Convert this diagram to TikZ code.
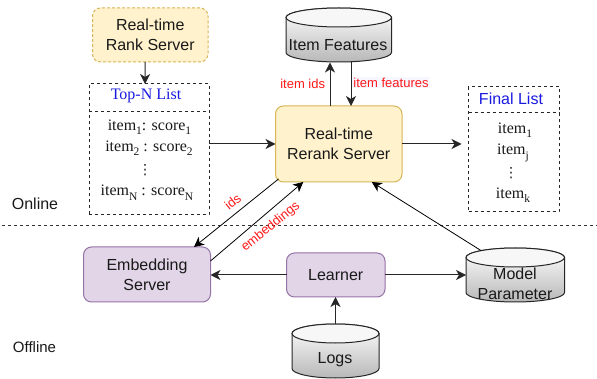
\documentclass[tikz,border=0pt]{standalone}
\usepackage{fontspec}
\setmainfont{Liberation Sans}
\newfontfamily\timesf{Liberation Serif}
\newfontfamily\dejavuf{DejaVu Sans}
\usetikzlibrary{arrows.meta,shadings,calc}
\definecolor{yfill}{HTML}{FFF2CC}
\definecolor{ydraw}{HTML}{D6B656}
\definecolor{pfill}{HTML}{E1D5E7}
\definecolor{pdraw}{HTML}{9673A6}
\definecolor{redlab}{HTML}{FF1A1A}
\definecolor{bluelab}{HTML}{1A1AE0}
\newcommand{\sbs}[1]{\raisebox{-0.28em}{\fontsize{11.5}{11.5}\selectfont #1}}
\newcommand{\cylinderdb}[6]{%
  % #1 name, #2 left, #3 top, #4 width, #5 height, #6 ellipse ry
  \node[anchor=north west,minimum width=#4pt,minimum height=#5pt,inner sep=0pt,outer sep=0pt] (#1) at (#2,#3) {};
  \shade[top color=white,bottom color=black!28,draw=black!85,line width=1pt]
    ($(#1.north west)+(0,-#6pt)$) -- ($(#1.south west)+(0,#6pt)$)
    arc[start angle=180,end angle=360,x radius=#4pt/2,y radius=#6pt]
    -- ($(#1.north east)+(0,-#6pt)$)
    arc[start angle=0,end angle=180,x radius=#4pt/2,y radius=#6pt] -- cycle;
  \draw[fill=white!97!black,draw=black!85,line width=1pt] ($(#1.north)+(0,-#6pt)$) ellipse[x radius=#4pt/2,y radius=#6pt];
}
\tikzset{
  every node/.style={font=\fontsize{16}{20}\selectfont,text=black!90},
  box/.style={rectangle,rounded corners=8pt,inner sep=0pt,outer sep=0pt,line width=1pt,align=center,anchor=north west},
  yellowbox/.style={box,draw=ydraw,fill=yfill},
  purplebox/.style={box,draw=pdraw,fill=pfill},
  listbox/.style={rectangle,draw=black!85,dash pattern=on 3pt off 3pt,line width=1pt,inner sep=0pt,outer sep=0pt,anchor=north west},
  conn/.style={draw=black!85,line width=1pt,-{Stealth[length=10pt,width=10pt,inset=3pt]}},
  thinconn/.style={draw=black,line width=0.8pt,-{Stealth[length=10pt,width=10pt,inset=3pt]}},
  labelred/.style={font=\fontsize{13}{15}\selectfont,text=redlab,inner sep=0pt},
  itemtext/.style={font=\timesf\fontsize{16}{18}\selectfont,inner sep=0pt},
  dotstext/.style={font=\dejavuf\fontsize{14}{14}\selectfont,inner sep=0pt},
  plain/.style={inner sep=0pt,align=center},
}
\begin{document}
\begin{tikzpicture}[x=1pt,y=-1pt]
\useasboundingbox (0,0) rectangle (597,379);
\fill[white] (0,0) rectangle (597,379);

% boxes
\node[yellowbox,dash pattern=on 3pt off 2pt,minimum width=115.5pt,minimum height=54pt] (rank) at (92.5,8) {Real-time\\Rank Server};
\node[yellowbox,minimum width=126.5pt,minimum height=76pt] (rerank) at (275.5,106) {Real-time\\Rerank Server};
\node[purplebox,minimum width=127pt,minimum height=55pt] (embed) at (83.5,247) {Embedding\\Server};
\node[purplebox,minimum width=98.5pt,minimum height=44pt] (learner) at (286.5,253) {Learner};

% lists
\node[listbox,minimum width=120pt,minimum height=131pt] (topn) at (89,84) {};
\coordinate (topnL) at (89,112);
\draw[listbox] (topnL) -- (topnL -| topn.east);
\node[itemtext,text=bluelab] (topntitle) at (146,96) {Top-N List};
\node[itemtext] (i1) at (149.5,127) {item\sbs{1}: score\sbs{1}};
\node[itemtext] (i2) at (149,148) {item\sbs{2} : score\sbs{2}};
\node[dotstext] (i3) at (145,170) {⋮};
\node[itemtext] (i4) at (147,192.5) {item\sbs{N} : score\sbs{N}};

\node[listbox,minimum width=90.5pt,minimum height=125pt] (final) at (468.5,87) {};
\coordinate (finalL) at (468.5,113);
\draw[listbox] (finalL) -- (finalL -| final.east);
\node[plain,text=bluelab] (finaltitle) at (511,98.5) {Final List};
\node[itemtext] (f1) at (515,130) {item\sbs{1}};
\node[itemtext] (f2) at (513,153) {item\sbs{j}};
\node[dotstext] (f3) at (511,173) {⋮};
\node[itemtext] (f4) at (513,195) {item\sbs{k}};

% cylinders
\cylinderdb{features}{286}{8}{105.5}{54}{9.5}
\node[plain] (featurestext) at (338,45) {Item Features};
\cylinderdb{model}{466}{248}{98.5}{54}{9.5}
\node[plain] (modeltext) at (515,284) {Model\\Parameter};
\cylinderdb{logs}{292}{324}{87}{54}{9.5}
\node[plain] (logstext) at (335,360) {Logs};

% section labels
\node[plain] (online) at (35,204) {Online};
\node[plain,font=\fontsize{15}{18}\selectfont] (offline) at (34.5,347) {Offline};
\coordinate (divA) at (2,226);
\coordinate (divB) at (597,226);
\draw[draw=black!80,line width=1pt,dash pattern=on 3pt off 3pt] (divA) -- (divB);

% connectors
\draw[conn] ([xshift=-5pt]rank.south) -- ([xshift=-4pt]topn.north);
\draw[conn] (topn.east |- rerank.west) -- (rerank.west);
\draw[conn] (rerank.east) -- ([xshift=-7pt]final.west |- rerank.east);
\draw[conn] ([xshift=-8.75pt]rerank.north) -- ([xshift=-8.75pt,yshift=-0.5pt]features.south);
\draw[conn] ([xshift=12.25pt]features.south) -- ([xshift=12.25pt]rerank.north);
\draw[thinconn] ([xshift=3pt,yshift=3pt]rerank.south west) -- ([xshift=47pt]embed.north);
\draw[thinconn] ([yshift=13.5pt]embed.east) -- ([xshift=-35.5pt]rerank.south);
\draw[thinconn] ([xshift=-34pt,yshift=-2.7pt]model.north) -- ([xshift=33pt]rerank.south);
\draw[conn] (learner.west) -- (embed.east |- learner.west);
\draw[conn] (learner.east) -- (model.west |- learner.east);
\draw[conn] ([xshift=0pt]logs.north) -- (logs.north |- learner.south);

% connector labels
\node[labelred] (lids) at (302.7,84) {item ids};
\node[labelred,fill=white!97!blue,inner sep=1pt] (lfeat) at (391,82.7) {item features};
\node[labelred,rotate=39] (lids2) at (232.7,201.7) {ids};
\node[labelred,rotate=39] (lemb) at (270.7,226.7) {embeddings};
\end{tikzpicture}
\end{document}
